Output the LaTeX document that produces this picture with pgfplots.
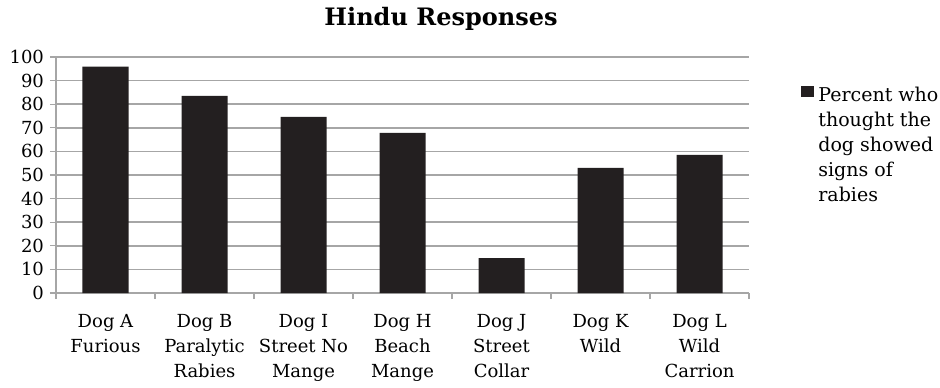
\documentclass[border=0pt]{standalone}
\usepackage{fontspec}
\setmainfont{DejaVu Serif}
\usepackage{pgfplots}
\pgfplotsset{compat=1.18}
\definecolor{barc}{HTML}{231F20}
\definecolor{gridc}{HTML}{A6A6A6}
\begin{document}
\begin{tikzpicture}
\useasboundingbox (-28pt,-47pt) rectangle (442pt,146.5pt);
\begin{axis}[
  at={(0,0)}, anchor=south west,
  scale only axis,
  width=346.5pt, height=118pt,
  xmin=-0.5, xmax=6.5, ymin=0, ymax=100,
  ytick={0,10,...,100},
  xtick={0,...,6},
  xticklabels={{Dog A\\Furious},{Dog B\\Paralytic\\Rabies},{Dog I\\Street No\\Mange},{Dog H\\Beach\\Mange},{Dog J\\Street\\Collar},{Dog K\\Wild},{Dog L\\Wild\\Carrion}},
  minor xtick={-0.5,0.5,...,6.5},
  axis lines*=left,
  axis line style={gridc, line width=0.7pt},
  ymajorgrids,
  major grid style={gridc, line width=0.8pt},
  tick style={gridc, line width=0.6pt},
  tick align=outside,
  major tick length=3pt,
  minor tick length=3pt,
  xtick style={draw=none},
  minor x tick style={draw=gridc},
  /pgf/number format/assume math mode=true,
  yticklabel style={font=\fontsize{9}{11}\selectfont, text=black, xshift=0.5pt},
  xticklabel style={font=\fontsize{9}{12.5}\selectfont, align=center, anchor=north, text=black, yshift=-4pt},
  ybar, bar width=23pt,
  legend style={at={(1.075,0.89)}, anchor=north west, draw=none, fill=none,
    font=\fontsize{9.5}{12.5}\selectfont, cells={align=left, anchor=west}, inner sep=0pt},
  legend image code/.code={\fill[barc] (0pt,24.5pt) rectangle (6.5pt,30pt);},
  clip=false,
]
\addplot[fill=barc, draw=none] coordinates {(0,95.9) (1,83.5) (2,74.6) (3,67.8) (4,14.8) (5,53) (6,58.5)};
\addlegendentry{Percent who\\thought the\\dog showed\\signs of\\rabies}
\node[font=\bfseries\fontsize{12}{14}\selectfont, anchor=base] at (rel axis cs:0.5556,1.1356) {Hindu Responses};
\end{axis}
\end{tikzpicture}
\end{document}
